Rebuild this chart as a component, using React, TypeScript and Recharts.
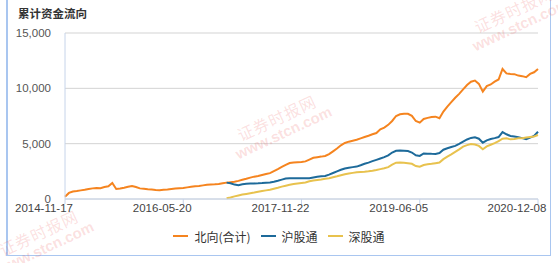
import { LineChart, Line, XAxis, YAxis, CartesianGrid, Legend } from "recharts";

// x positions are sample indices; tick labels sit every 30 samples
const tickLabels = ["2014-11-17", "2016-05-20", "2017-11-22", "2019-06-05", "2020-12-08"];
const tickStep = 30;
const yTicks = [0, 5000, 10000, 15000];

// 北向(合计)
const northbound = [
  200, 550, 680, 720, 780, 830, 900, 960, 1000, 980,
  1080, 1150, 1450, 900, 950, 1020, 1100, 1170, 1080, 960,
  920, 880, 850, 820, 800, 830, 860, 900, 940, 980,
  1000, 1050, 1100, 1150, 1170, 1230, 1290, 1310, 1330, 1360,
  1420, 1480, 1520, 1560, 1640, 1740, 1830, 1930, 2020, 2080,
  2170, 2260, 2340, 2520, 2700, 2900, 3080, 3250, 3300, 3320,
  3340, 3400, 3560, 3720, 3780, 3830, 3890, 4050, 4300, 4560,
  4850, 5060, 5180, 5270, 5350, 5480, 5600, 5720, 5850, 5960,
  6300, 6450, 6700, 7050, 7500, 7650, 7700, 7700, 7520, 7050,
  6900, 7230, 7330, 7400, 7440, 7300, 7900, 8350, 8750, 9150,
  9500, 9900, 10300, 10600, 10700, 10400, 9700, 10200, 10350, 10600,
  10800, 11750, 11350, 11300, 11280, 11150, 11100, 11000, 11300, 11450,
  11750,
];

// 深股通 opened at sample 41; both split series start there
const splitStart = 41;

// 沪股通
const shanghai = [
  1480, 1420, 1300, 1250, 1330, 1380, 1400, 1410, 1420,
  1440, 1470, 1500, 1560, 1650, 1750, 1850, 1880, 1880, 1870,
  1870, 1870, 1880, 1950, 2020, 2050, 2080, 2200, 2350, 2500,
  2640, 2760, 2830, 2880, 2930, 3050, 3180, 3290, 3420, 3540,
  3660, 3780, 3950, 4200, 4360, 4380, 4360, 4330, 4200, 3950,
  3890, 4120, 4100, 4080, 4070, 4150, 4450, 4580, 4700, 4800,
  4980, 5180, 5380, 5520, 5580, 5450, 5090, 5300, 5420, 5500,
  5600, 6050, 5850, 5690, 5650, 5580, 5500, 5400, 5550, 5700,
  6080,
];

// 深股通
const shenzhen = [
  60, 130, 240, 320, 400, 460, 520, 580, 650,
  720, 780, 840, 930, 1020, 1120, 1200, 1280, 1350, 1400,
  1450, 1500, 1600, 1680, 1720, 1760, 1820, 1880, 1970, 2050,
  2150, 2240, 2300, 2360, 2410, 2440, 2470, 2510, 2560, 2620,
  2700, 2780, 2880, 3100, 3280, 3300, 3280, 3240, 3180, 2980,
  2920, 3070, 3130, 3180, 3240, 3300, 3600, 3830, 4030, 4250,
  4480, 4730, 4870, 4970, 4920, 4800, 4490, 4750, 4900, 5050,
  5230, 5450, 5480, 5390, 5420, 5480, 5500, 5550, 5600, 5650,
  5780,
];

const data = northbound.map((v, i) => ({
  i,
  north: v,
  sh: i >= splitStart ? shanghai[i - splitStart] : null,
  sz: i >= splitStart ? shenzhen[i - splitStart] : null,
}));

const series = [
  { key: "north", name: "北向(合计)", color: "#f5841f" },
  { key: "sh", name: "沪股通", color: "#1d6a9a" },
  { key: "sz", name: "深股通", color: "#e8c24e" },
];

const FONT = "'Liberation Sans', Arial, sans-serif";
const CJK = "'Noto Sans CJK SC', 'Noto Sans', sans-serif";

const DateTick = (props: any) => {
  const { x, y, payload } = props;
  return (
    <text
      x={x - 21}
      y={y}
      dy="0.71em"
      textAnchor="middle"
      fill="#444"
      fontSize={11.5}
      fontFamily={FONT}
    >
      {tickLabels[Math.round(payload.value / tickStep)]}
    </text>
  );
};

const LegendBox = () => (
  <div
    style={{
      width: 558,
      height: 20,
      display: "flex",
      justifyContent: "center",
      alignItems: "center",
      fontFamily: CJK,
      fontSize: 12,
      color: "#333",
    }}
  >
    {series.map((s) => (
      <div key={s.key} style={{ display: "flex", alignItems: "center", margin: "0 5px" }}>
        <span style={{ width: 15, height: 2, background: s.color, marginRight: 6 }} />
        <span>{s.name}</span>
      </div>
    ))}
  </div>
);

const Watermark = ({ cx, cy }: { cx: number; cy: number }) => (
  <div
    style={{
      position: "absolute",
      left: cx,
      top: cy,
      transform: "translate(-50%, -50%) rotate(-25deg)",
      color: "rgba(236, 96, 96, 0.2)",
      textAlign: "center",
      lineHeight: 1.05,
      whiteSpace: "nowrap",
      pointerEvents: "none",
    }}
  >
    <div style={{ fontFamily: CJK, fontSize: 16, letterSpacing: 1 }}>证券时报网</div>
    <div style={{ fontFamily: FONT, fontSize: 15, fontWeight: 700 }}>www.stcn.com</div>
  </div>
);

export default function App() {
  return (
    <div style={{ position: "absolute", left: 0, top: 0, width: 558, height: 263, background: "#fff", overflow: "hidden" }}>
      <div
        style={{
          position: "absolute",
          left: 6,
          top: -2,
          width: 542,
          height: 256,
          border: "1px solid #a9c6f0",
          borderLeftWidth: 2,
        }}
      />
      <div
        style={{
          position: "absolute",
          left: 18,
          top: 5,
          fontFamily: CJK,
          fontWeight: 700,
          fontSize: 11.5,
          color: "#333",
        }}
      >
        累计资金流向
      </div>
      <LineChart
        width={558}
        height={263}
        data={data}
        margin={{ top: 33, right: 20, left: 0, bottom: 17 }}
        style={{ position: "absolute", left: 0, top: 0 }}
      >
        <CartesianGrid horizontal vertical={false} stroke="#d3d3d3" />
        <XAxis
          dataKey="i"
          type="number"
          domain={[0, 120]}
          ticks={tickLabels.map((_, k) => k * tickStep)}
          tick={<DateTick />}
          height={27}
          tickSize={5}
          tickMargin={0}
          stroke="#c6d4ea"
          interval={0}
        />
        <YAxis
          width={65}
          domain={[0, 15000]}
          ticks={yTicks}
          tickLine={false}
          tickMargin={8}
          stroke="#c6d4ea"
          tick={{ fill: "#555", fontSize: 11.5, fontFamily: FONT }}
          tickFormatter={(v: number) => v.toLocaleString("en-US")}
        />
        <Legend verticalAlign="bottom" content={<LegendBox />} wrapperStyle={{ left: 0, width: 558 }} />
        {series.map((s) => (
          <Line
            key={s.key}
            dataKey={s.key}
            name={s.name}
            type="linear"
            stroke={s.color}
            strokeWidth={2}
            dot={false}
            isAnimationActive={false}
          />
        ))}
      </LineChart>
      <Watermark cx={42} cy={240} />
      <Watermark cx={280} cy={125} />
      <Watermark cx={517} cy={17} />
    </div>
  );
}
